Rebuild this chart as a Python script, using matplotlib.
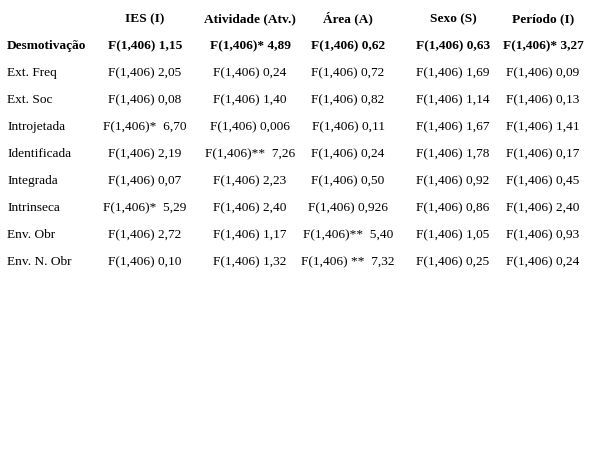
import matplotlib.pyplot as plt

headers = ["IES (I)", "Atividade (Atv.)", "Área (A)", "Sexo (S)", "Período (I)"]
row_labels = ["Desmotivação", "Ext. Freq", "Ext. Soc", "Introjetada", "Identificada",
              "Integrada", "Intrinseca", "Env. Obr", "Env. N. Obr"]
cells = [
    ["F(1,406) 1,15", "F(1,406)* 4,89", "F(1,406) 0,62", "F(1,406) 0,63", "F(1,406)* 3,27"],
    ["F(1,406) 2,05", "F(1,406) 0,24", "F(1,406) 0,72", "F(1,406) 1,69", "F(1,406) 0,09"],
    ["F(1,406) 0,08", "F(1,406) 1,40", "F(1,406) 0,82", "F(1,406) 1,14", "F(1,406) 0,13"],
    ["F(1,406)*  6,70", "F(1,406) 0,006", "F(1,406) 0,11", "F(1,406) 1,67", "F(1,406) 1,41"],
    ["F(1,406) 2,19", "F(1,406)**  7,26", "F(1,406) 0,24", "F(1,406) 1,78", "F(1,406) 0,17"],
    ["F(1,406) 0,07", "F(1,406) 2,23", "F(1,406) 0,50", "F(1,406) 0,92", "F(1,406) 0,45"],
    ["F(1,406)*  5,29", "F(1,406) 2,40", "F(1,406) 0,926", "F(1,406) 0,86", "F(1,406) 2,40"],
    ["F(1,406) 2,72", "F(1,406) 1,17", "F(1,406)**  5,40", "F(1,406) 1,05", "F(1,406) 0,93"],
    ["F(1,406) 0,10", "F(1,406) 1,32", "F(1,406) **  7,32", "F(1,406) 0,25", "F(1,406) 0,24"],
]

W, H = 595, 468
fig = plt.figure(figsize=(5.95, 4.68), dpi=100)
ax = fig.add_axes([0, 0, 1, 1])
ax.set_xlim(0, W)
ax.set_ylim(H, 0)
ax.axis("off")

col_x = [145, 250, 348, 453, 543]
fs = 9.6
fam = "Liberation Serif"

for x, h in zip(col_x, headers):
    ax.text(x, 22, h, ha="center", va="baseline", fontsize=fs, fontweight="bold", family=fam)

for i, (lab, row) in enumerate(zip(row_labels, cells)):
    y = 49 + i * 27
    bold = "bold" if i == 0 else "normal"
    ax.text(7, y, lab, ha="left", va="baseline", fontsize=fs, fontweight=bold, family=fam)
    for x, c in zip(col_x, row):
        ax.text(x, y, c, ha="center", va="baseline", fontsize=fs, fontweight=bold, family=fam)

fig.savefig("out.png", dpi=100)
